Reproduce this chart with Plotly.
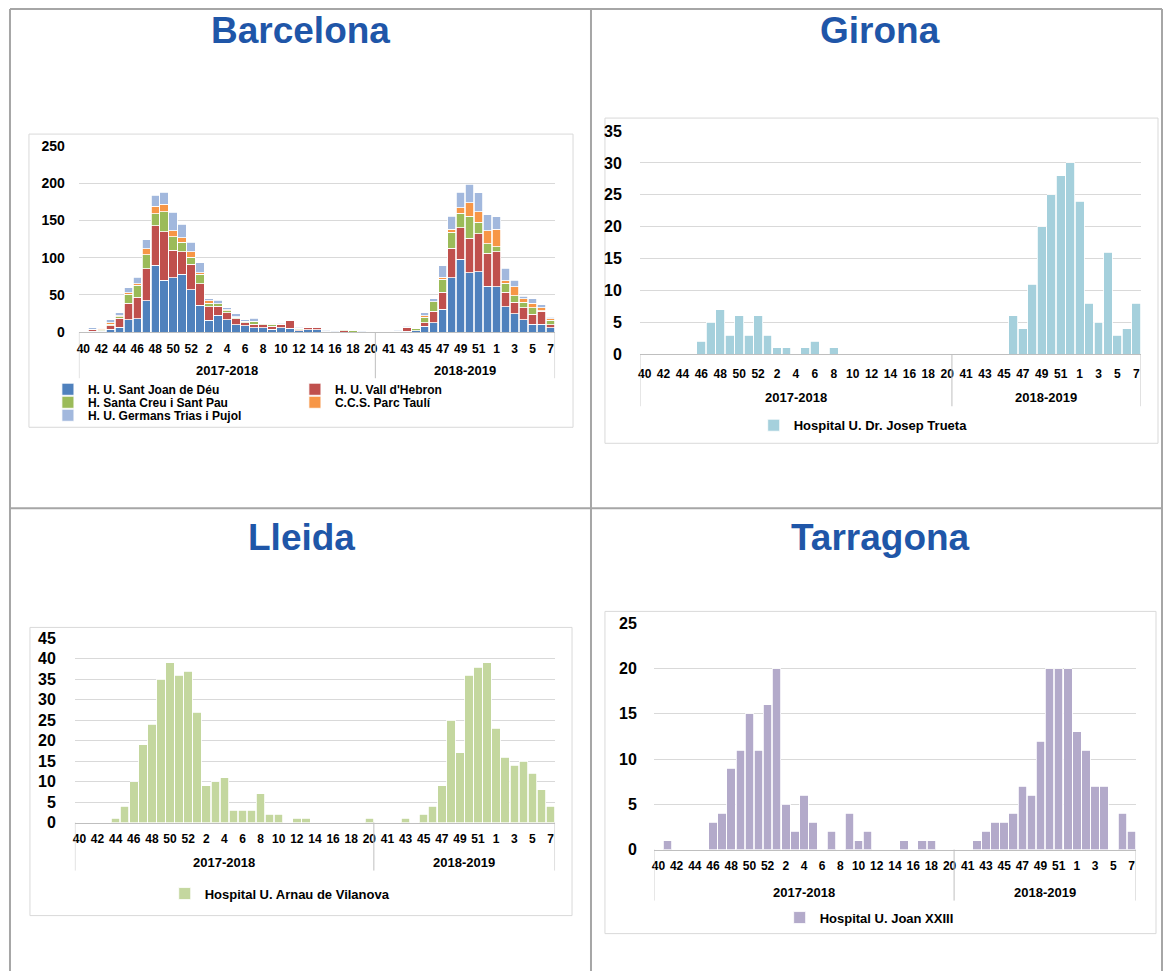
import plotly.graph_objects as go

W, H = 1164, 980
TOP, SY = 8, 0.982   # measured page-to-picture vertical mapping of the viewer

# ---------------- data ----------------
weeks_1718 = ["40", "41", "42", "43", "44", "45", "46", "47", "48", "49", "50", "51", "52",
              "1", "2", "3", "4", "5", "6", "7", "8", "9", "10", "11", "12", "13", "14",
              "15", "16", "17", "18", "19", "20"]
weeks_1819 = ["40", "41", "42", "43", "44", "45", "46", "47", "48", "49", "50", "51", "52",
              "1", "2", "3", "4", "5", "6", "7"]
seasons = ["2017-2018", "2018-2019"]

# Barcelona (stacked)
bcn_sant_joan = [0, 1, 1, 4, 7, 17, 18, 42, 90, 70, 73, 78, 57, 36, 16, 23, 17, 10, 9, 6, 6, 4, 6, 5, 2, 3, 3, 1, 0, 0, 0, 0, 0,
                 0, 0, 1, 1, 2, 8, 13, 31, 73, 98, 80, 81, 62, 61, 34, 25, 17, 11, 11, 6]
bcn_vall_hebron = [0, 3, 1, 5, 12, 22, 29, 43, 53, 65, 37, 30, 34, 29, 18, 12, 9, 8, 4, 5, 4, 4, 4, 11, 1, 4, 3, 1, 0, 2, 0, 0, 0,
                   0, 1, 0, 6, 0, 5, 15, 23, 40, 42, 46, 51, 44, 47, 20, 15, 16, 13, 17, 4]
bcn_santa_creu = [0, 0, 1, 2, 2, 12, 16, 19, 16, 27, 18, 13, 10, 13, 5, 3, 3, 2, 1, 3, 2, 3, 1, 0, 2, 0, 0, 0, 0, 1, 2, 0, 0,
                  0, 0, 1, 0, 3, 7, 13, 17, 21, 20, 30, 16, 13, 7, 12, 9, 7, 9, 1, 6]
bcn_parc_tauli = [0, 0, 2, 2, 1, 2, 2, 8, 10, 10, 8, 6, 7, 2, 3, 0, 1, 1, 1, 1, 0, 1, 0, 0, 0, 1, 0, 0, 0, 0, 0, 0, 0,
                  0, 0, 0, 0, 0, 2, 0, 3, 4, 7, 18, 14, 17, 23, 3, 12, 5, 6, 4, 2]
bcn_germans_trias = [0, 2, 1, 4, 4, 7, 9, 12, 15, 16, 25, 18, 13, 13, 3, 5, 3, 4, 2, 4, 1, 1, 1, 1, 2, 1, 1, 1, 1, 0, 0, 1, 0,
                     0, 0, 1, 1, 1, 4, 4, 15, 18, 21, 25, 25, 22, 17, 17, 9, 3, 6, 4, 2]

# Girona
gir_trueta = [0, 0, 0, 0, 0, 0, 2, 5, 7, 3, 6, 3, 6, 3, 1, 1, 0, 1, 2, 0, 1, 0, 0, 0, 0, 0, 0, 0, 0, 0, 0, 0, 0,
              0, 0, 0, 0, 0, 0, 6, 4, 11, 20, 25, 28, 30, 24, 8, 5, 16, 3, 4, 8]

# Lleida
lle_arnau = [0, 0, 0, 0, 1, 4, 10, 19, 24, 35, 39, 36, 37, 27, 9, 10, 11, 3, 3, 3, 7, 2, 2, 0, 1, 1, 0, 0, 0, 0, 0, 0, 1,
             0, 0, 0, 1, 0, 2, 4, 9, 25, 17, 36, 38, 39, 23, 16, 14, 15, 12, 8, 4]

# Tarragona
tar_joan23 = [0, 1, 0, 0, 0, 0, 3, 4, 9, 11, 15, 11, 16, 20, 5, 2, 6, 3, 0, 2, 0, 4, 1, 2, 0, 0, 0, 1, 0, 1, 1, 0, 0,
              0, 0, 1, 2, 3, 3, 4, 7, 6, 12, 20, 20, 20, 13, 11, 7, 7, 0, 4, 2]

bcn_names = ["H. U. Sant Joan de Déu", "H. U. Vall d'Hebron", "H. Santa Creu i Sant Pau",
             "C.C.S. Parc Taulí", "H. U. Germans Trias i Pujol"]
bcn_colors = ["#4F81BD", "#C0504D", "#9BBB59", "#F79646", "#A2B8DD"]

# ---------------- helpers ----------------
def fx(p):
    return p / W


def fy(p):
    return 1 - ((p - TOP) / SY) / H


week_labels = weeks_1718 + weeks_1819
xs = list(range(len(week_labels)))
n1 = len(weeks_1718)
tickvals = xs[::2]
ticktext = week_labels[::2]

FONT = "Liberation Sans, Arial, sans-serif"
TITLE_COLOR = "#1F56A8"

panels = [
    dict(title="Barcelona", tx=299, ty=30, x0=77, x1=554, yt=146, yb=332, ymax=250, dtick=50,
         ytf=14, so=13, xso=5, box=(27, 134, 572, 427), gy=370, db=378),
    dict(title="Girona", tx=880, ty=30, x0=639, x1=1141, yt=131, yb=354, ymax=35, dtick=5,
         ytf=16, so=17, xso=8, box=(604, 118, 1158, 443), gy=397, db=406),
    dict(title="Lleida", tx=300, ty=537, x0=73, x1=554, yt=638, yb=822, ymax=45, dtick=5,
         ytf=16, so=18, xso=5, box=(28, 627, 571, 915), gy=862, db=870),
    dict(title="Tarragona", tx=880, ty=537, x0=653, x1=1136, yt=623, yb=849, ymax=25, dtick=5,
         ytf=16, so=16, xso=5, box=(604, 611, 1156, 933), gy=892, db=900),
]

fig = go.Figure()

# Barcelona traces
bcn_series = [bcn_sant_joan, bcn_vall_hebron, bcn_santa_creu, bcn_parc_tauli, bcn_germans_trias]
bcn_legends = ["legend", "legend", "legend2", "legend2", "legend3"]
for vals, name, col, lg in zip(bcn_series, bcn_names, bcn_colors, bcn_legends):
    fig.add_trace(go.Bar(x=xs, y=vals, name=name, marker=dict(color=col, line=dict(color="white", width=0.8)),
                         xaxis="x", yaxis="y", legend=lg))

fig.add_trace(go.Bar(x=xs, y=gir_trueta, name="Hospital U. Dr. Josep Trueta",
                     marker=dict(color="#A5D0DC", line=dict(color="white", width=0.8)),
                     xaxis="x2", yaxis="y2", legend="legend4"))
fig.add_trace(go.Bar(x=xs, y=lle_arnau, name="Hospital U. Arnau de Vilanova",
                     marker=dict(color="#C4D79F", line=dict(color="white", width=0.8)),
                     xaxis="x3", yaxis="y3", legend="legend5"))
fig.add_trace(go.Bar(x=xs, y=tar_joan23, name="Hospital U. Joan XXIII",
                     marker=dict(color="#B3AACA", line=dict(color="white", width=0.8)),
                     xaxis="x4", yaxis="y4", legend="legend6"))

shapes = []
annotations = []
layout = {}
for i, p in enumerate(panels, start=1):
    sx = "" if i == 1 else str(i)
    layout["xaxis" + sx] = dict(
        domain=[fx(p["x0"]), fx(p["x1"])], range=[-0.5, len(xs) - 0.5],
        anchor="y" + sx, tickmode="array", tickvals=tickvals, ticktext=ticktext, tickangle=0,
        tickfont=dict(family=FONT, size=12, color="black", weight="bold"),
        showgrid=False, zeroline=False, showline=True, linecolor="#BFBFBF", linewidth=1,
        ticks="", ticklabelstandoff=p["xso"], fixedrange=True)
    layout["yaxis" + sx] = dict(
        domain=[fy(p["yb"]), fy(p["yt"])], range=[0, p["ymax"]], dtick=p["dtick"],
        anchor="x" + sx, tickfont=dict(family=FONT, size=p["ytf"], color="black", weight="bold"),
        showgrid=True, gridcolor="#D9D9D9", gridwidth=1, zeroline=False, showline=False,
        ticks="", ticklabelstandoff=p["so"], fixedrange=True)
    # chart area box
    bx0, by0, bx1, by1 = p["box"]
    shapes.append(dict(type="rect", xref="paper", yref="paper", x0=fx(bx0), x1=fx(bx1),
                       y0=fy(by1), y1=fy(by0), line=dict(color="#D9D9D9", width=1), layer="below"))
    # category group dividers
    for dv in [-0.5, n1 - 0.5, len(xs) - 0.5]:
        shapes.append(dict(type="line", xref="x" + sx, yref="paper", x0=dv, x1=dv,
                           y0=fy(p["yb"]), y1=fy(p["db"]), line=dict(color="#BFBFBF", width=1)))
    # group labels
    centers = [(n1 - 1) / 2, n1 + (len(weeks_1819) - 1) / 2]
    for c, s in zip(centers, seasons):
        annotations.append(dict(text=s, xref="x" + sx, yref="paper", x=c, y=fy(p["gy"]),
                                xanchor="center", yanchor="middle", showarrow=False,
                                font=dict(family=FONT, size=13, color="black", weight="bold")))
    # panel titles
    annotations.append(dict(text=p["title"], xref="paper", yref="paper", x=fx(p["tx"]), y=fy(p["ty"]),
                            xanchor="center", yanchor="middle", showarrow=False,
                            font=dict(family=FONT, size=37, color=TITLE_COLOR, weight="bold")))

# outer frame of the 2x2 grid
frame_col = "#A6A6A6"
top_line = 0.999
for xv in [8, 590, 1162]:
    shapes.append(dict(type="line", xref="paper", yref="paper", x0=fx(xv), x1=fx(xv), y0=0, y1=top_line,
                       line=dict(color=frame_col, width=2)))
for yv in [top_line, fy(508)]:
    shapes.append(dict(type="line", xref="paper", yref="paper", x0=fx(8), x1=fx(1162), y0=yv, y1=yv,
                       line=dict(color=frame_col, width=2)))

leg_font12 = dict(family=FONT, size=12, color="black", weight="bold")
leg_font13 = dict(family=FONT, size=13, color="black", weight="bold")


def leg(xpx, ypx, font, ew=None):
    d = dict(orientation="h", x=fx(xpx), y=fy(ypx), xanchor="left", yanchor="middle",
             traceorder="normal", bgcolor="rgba(0,0,0,0)", borderwidth=0, font=font,
             itemclick=False, itemdoubleclick=False)
    if ew:
        d.update(entrywidth=ew, entrywidthmode="pixels")
    return d


fig.update_layout(
    width=W, height=H, margin=dict(l=0, r=0, t=0, b=0),
    paper_bgcolor="white", plot_bgcolor="rgba(0,0,0,0)",
    barmode="stack", bargap=0.06,
    shapes=shapes, annotations=annotations,
    legend=leg(46, 389, leg_font12, 202),
    legend2=leg(46, 402, leg_font12, 202),
    legend3=leg(46, 415, leg_font12),
    legend4=leg(753, 425, leg_font13),
    legend5=leg(163, 893, leg_font13),
    legend6=leg(779, 917, leg_font13),
    **layout,
)

fig.write_html("out.html", config={"responsive": False, "displayModeBar": False},
               post_script="document.body.style.margin='0px';document.body.style.overflow='hidden';")
